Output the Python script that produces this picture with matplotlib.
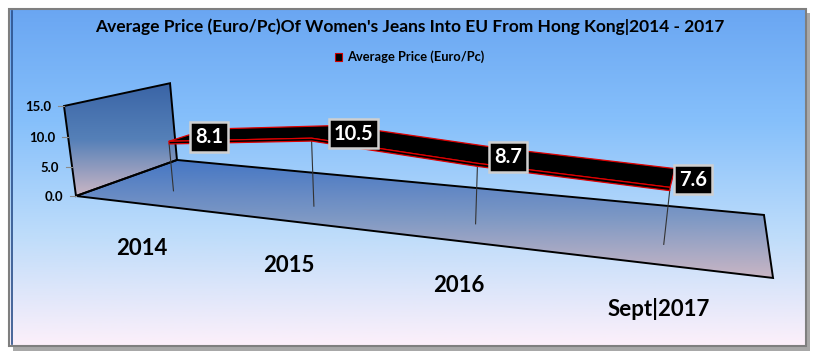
import numpy as np
import matplotlib.pyplot as plt
from matplotlib.patches import Polygon, Rectangle
from matplotlib.colors import LinearSegmentedColormap

years = ["2014", "2015", "2016", "Sept|2017"]
price = [8.1, 10.5, 8.7, 7.6]
y_ticks = [0.0, 5.0, 10.0, 15.0]
y_max = 15.0

title = "Average Price (Euro/Pc)Of Women's Jeans Into EU From Hong Kong|2014 - 2017"
series_name = "Average Price (Euro/Pc)"

plt.rcParams["font.family"] = ["Lato", "DejaVu Sans"]

# perspective camera of the excel 3d chart: (u, value, depth, 1) -> pixel
# u = 0..1 along categories, depth 0 = front, 1 = back
CAM = np.array([
    [489.4, -0.953, 133.4, 76.0],
    [7.3, -6.253, -6.7, 196.0],
    [-0.2686, -0.002387, 0.1833, 1.0],
])


def proj(u, v, z):
    p = CAM @ np.array([u, v, z, 1.0])
    return p[0] / p[2], p[1] / p[2]


def grad_poly(ax, pts, colors, z=2):
    poly = Polygon(pts, closed=True, fc="none", ec="black", lw=1.4, zorder=z + 0.1)
    ax.add_patch(poly)
    xs = [p[0] for p in pts]
    ys = [p[1] for p in pts]
    cmap = LinearSegmentedColormap.from_list("g", colors)
    im = ax.imshow(np.linspace(0, 1, 256).reshape(-1, 1), cmap=cmap, aspect="auto",
                   extent=(min(xs), max(xs), max(ys), min(ys)), zorder=z)
    im.set_clip_path(poly)


fig = plt.figure(figsize=(8.2, 3.63), dpi=100)
ax = fig.add_axes([0, 0, 1, 1])
ax.set_autoscale_on(False)
ax.set_xlim(0, 820)
ax.set_ylim(363, 0)
ax.axis("off")

# chart area with shadow and gradient
ax.add_patch(Rectangle((13, 13), 797, 338, fc="#a8a8a8", ec="none", zorder=0))
bg = LinearSegmentedColormap.from_list("bg", ["#6aa6f2", "#86c0fb", "#bddcfa", "#fdf0fa"])
ax.imshow(np.linspace(0, 1, 256).reshape(-1, 1), cmap=bg, aspect="auto",
          extent=(9, 806, 346, 9), zorder=0.5)
ax.add_patch(Rectangle((9, 9), 797, 337, fc="none", ec="#7f7f7f", lw=1.5, zorder=1))
ax.plot([12.5, 12.5], [11, 344], color="#2a4f8a", lw=1.2, zorder=1)

# left wall and floor
wall = [proj(0, 0, 0), proj(0, y_max, 0), proj(0, y_max, 1), proj(0, 0, 1)]
floor = [proj(0, 0, 0), proj(1, 0, 0), proj(1, 0, 1), proj(0, 0, 1)]
grad_poly(ax, wall, ["#3a64a6", "#5580b8", "#cbb6c4"])
grad_poly(ax, floor, ["#4677c4", "#7f99c4", "#c9b6c4"])

# value axis labels
for v in y_ticks:
    x, y = proj(0, v, 0)
    ax.plot([x - 6, x], [y, y], color="#8a8a8a", lw=0.8, zorder=3)
    ax.text(x - 13, y + 1, f"{v:.1f}", ha="right", va="center",
            fontsize=9.5, fontweight="bold", zorder=3)

# category labels
n = len(years)
us = [(i + 0.5) / n for i in range(n)]
for u, name in zip(us, years):
    ax.annotate(name, xy=proj(u, 0, 0), xytext=(0, -32), textcoords="offset points",
                ha="center", va="center", fontsize=16, fontweight="bold", zorder=3)

# 3d line ribbon
thick, zf, zb = 0.45, 0.3, 0.7
front_bot = [proj(u, v, zf) for u, v in zip(us, price)]
front_top = [proj(u, v + thick, zf) for u, v in zip(us, price)]
back_top = [proj(u, v + thick, zb) for u, v in zip(us, price)]

for u, v in zip(us, price):
    x0, y0 = proj(u, 0, zf)
    x1, y1 = proj(u, v, zf)
    ax.plot([x0, x1], [y0, y1], color="#333333", lw=0.8, zorder=4)

ax.add_patch(Polygon(front_top + back_top[::-1], closed=True, fc="black", ec="#e00000", lw=0.9, zorder=5))
ax.add_patch(Polygon(front_bot + front_top[::-1], closed=True, fc="black", ec="#e00000", lw=0.9, zorder=5.5))

# data labels
for u, v in zip(us, price):
    x, y = proj(u, v + thick, 0.5)
    ax.text(x + 6.5, y + 2, f"{v:.1f}", ha="left", va="center", color="white",
            fontsize=14.5, fontweight="bold", zorder=7,
            bbox=dict(boxstyle="square,pad=0.24", fc="black", ec="#cfcfcf", lw=1.8))

# title and legend
ax.text(410, 27, title, ha="center", va="center", fontsize=12.5, fontweight="bold", zorder=3)
ax.add_patch(Rectangle((335.5, 53), 7, 8, fc="black", ec="#d00000", lw=0.8, zorder=3))
ax.text(347, 57, series_name, ha="left", va="center", fontsize=9.3, fontweight="bold", zorder=3)

fig.savefig("out.png", dpi=100)
